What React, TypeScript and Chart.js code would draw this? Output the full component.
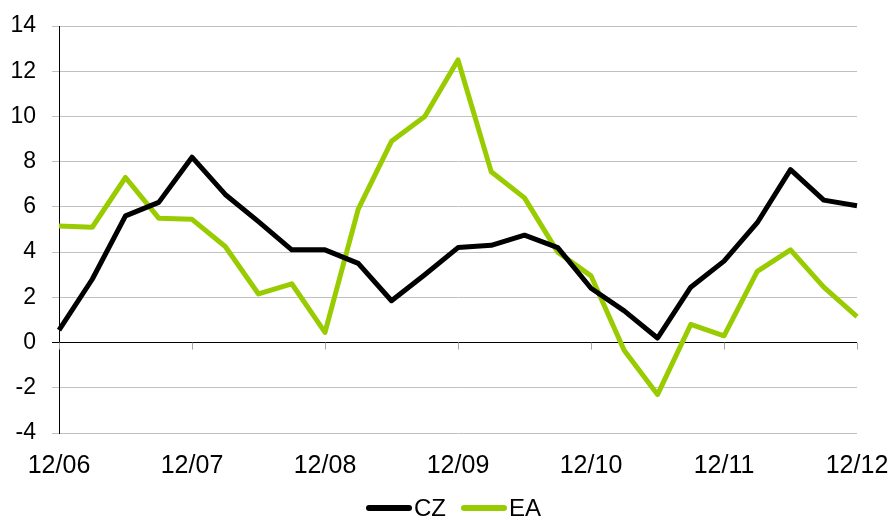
import React, { useEffect, useRef } from "react";
import { Chart, registerables } from "chart.js";

Chart.register(...registerables);

const categories = [
  "12/06", "03/07", "06/07", "09/07",
  "12/07", "03/08", "06/08", "09/08",
  "12/08", "03/09", "06/09", "09/09",
  "12/09", "03/10", "06/10", "09/10",
  "12/10", "03/11", "06/11", "09/11",
  "12/11", "03/12", "06/12", "09/12",
  "12/12",
];

const czValues = [
  0.55, 2.8, 5.6, 6.2, 8.2, 6.55, 5.35, 4.1, 4.1, 3.5, 1.85, 3.0, 4.2, 4.3, 4.75,
  4.2, 2.4, 1.4, 0.2, 2.45, 3.6, 5.3, 7.65, 6.3, 6.05,
];

const eaValues = [
  5.15, 5.1, 7.3, 5.5, 5.45, 4.25, 2.15, 2.6, 0.45, 5.9, 8.9, 10.0, 12.5, 7.55, 6.4,
  4.0, 2.95, -0.35, -2.3, 0.8, 0.3, 3.15, 4.1, 2.45, 1.15,
];

const seriesNames = ["CZ", "EA"];
const seriesColors = ["#000000", "#99cc00"];
const yMin = -4;
const yMax = 14;
const yStep = 2;

const FONT = "'Liberation Sans', Arial, sans-serif";

const zeroTickPlugin = {
  id: "zeroTicks",
  beforeDatasetsDraw(chart: any) {
    const { ctx, scales } = chart;
    const xs = scales.x;
    const ys = scales.y;
    const y0 = ys.getPixelForValue(0);
    ctx.save();
    ctx.strokeStyle = "#a6a6a6";
    ctx.lineWidth = 1;
    for (let i = 0; i < categories.length; i += 4) {
      const x = Math.round(xs.getPixelForValue(i)) + 0.5;
      ctx.beginPath();
      ctx.moveTo(x, y0);
      ctx.lineTo(x, y0 + 7);
      ctx.stroke();
    }
    ctx.restore();
  },
};

export default function App() {
  const ref = useRef<HTMLCanvasElement | null>(null);

  useEffect(() => {
    document.body.style.margin = "0";
    const canvas = ref.current!;
    const chart = new Chart(canvas, {
      type: "line",
      data: {
        labels: categories,
        datasets: [czValues, eaValues].map((vals, i) => ({
          label: seriesNames[i],
          data: vals,
          borderColor: seriesColors[i],
          backgroundColor: seriesColors[i],
          borderWidth: 5,
          pointRadius: 0,
          tension: 0,
          borderJoinStyle: "round",
        })),
      },
      options: {
        responsive: false,
        animation: false,
        devicePixelRatio: 1,
        layout: { padding: { top: 26, right: 31, left: 0, bottom: 0 } },
        plugins: {
          tooltip: { enabled: false },
          legend: { display: false },
        },
        scales: {
          x: {
            type: "category",
            offset: false,
            grid: { display: false, drawTicks: false, tickLength: 0 },
            border: { display: false },
            ticks: {
              autoSkip: false,
              maxRotation: 0,
              padding: 18,
              color: "#000",
              font: { family: FONT, size: 25 },
              callback(_v: any, i: number) {
                return i % 4 === 0 ? categories[i] : "";
              },
            },
            afterFit(scale: any) {
              scale.height = 87;
              scale.paddingLeft = 0;
              scale.paddingRight = 0;
            },
          },
          y: {
            min: yMin,
            max: yMax,
            ticks: {
              stepSize: yStep,
              padding: 16,
              color: "#000",
              font: { family: FONT, size: 23 },
            },
            grid: {
              color: (c: any) => (c.tick && c.tick.value === 0 ? "#000000" : "#c0c0c0"),
              lineWidth: 1,
              tickLength: 7,
            },
            border: { display: true, color: "#000000", width: 1 },
            afterFit(scale: any) {
              scale.width = 59;
              scale.paddingTop = 0;
              scale.paddingBottom = 0;
            },
          },
        },
      },
      plugins: [zeroTickPlugin],
    } as any);
    return () => chart.destroy();
  }, []);

  return (
    <div style={{ position: "relative", width: 888, height: 520 }}>
      <canvas
        ref={ref}
        width={888}
        height={520}
        style={{ display: "block", width: 888, height: 520 }}
      />
      <div
        style={{
          position: "absolute",
          left: 366,
          top: 494,
          height: 28,
          display: "flex",
          alignItems: "center",
          fontFamily: FONT,
          fontSize: 24,
          color: "#000",
          whiteSpace: "nowrap",
        }}
      >
        {seriesNames.map((name, i) => (
          <div
            key={name}
            style={{ display: "flex", alignItems: "center", marginLeft: i === 0 ? 0 : 15 }}
          >
            <span
              style={{
                display: "inline-block",
                width: 46,
                height: 6,
                borderRadius: 3,
                background: seriesColors[i],
                marginRight: 2,
              }}
            />
            <span style={{ lineHeight: "28px" }}>{name}</span>
          </div>
        ))}
      </div>
    </div>
  );
}
